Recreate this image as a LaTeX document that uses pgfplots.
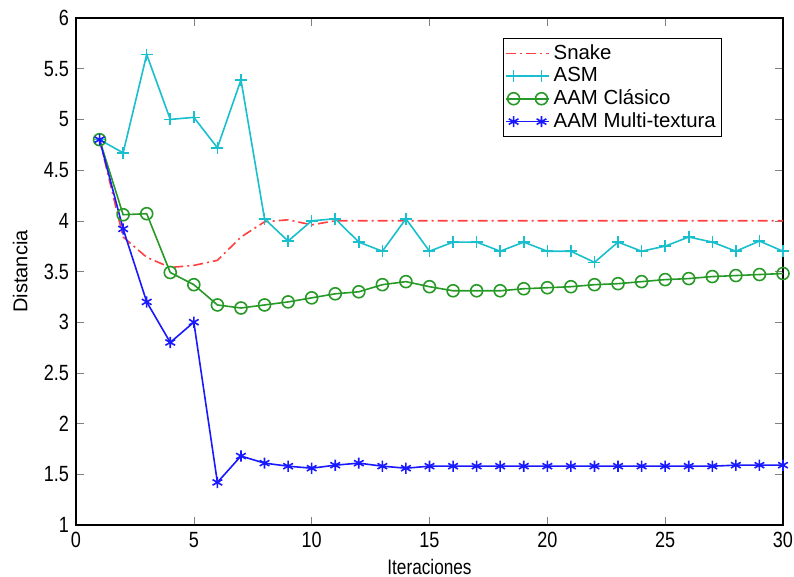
\documentclass[border=0pt]{standalone}
\usepackage{fontspec}
\setmainfont{Liberation Sans}
\newfontfamily\condensed[FakeStretch=0.82]{Liberation Sans}
\usepackage{pgfplots}
\pgfplotsset{compat=1.18}
\definecolor{snk}{rgb}{1,0.25,0.25}
\definecolor{asm}{rgb}{0.1,0.75,0.8}
\definecolor{aamc}{rgb}{0.15,0.6,0.15}
\definecolor{aamm}{rgb}{0.1,0.1,1}
\begin{document}
\begin{tikzpicture}
\useasboundingbox (-38pt,-26pt) rectangle (359pt,262.5pt);
\begin{axis}[
  scale only axis, width=353.5pt, height=253.5pt,
  xmin=0, xmax=30, ymin=1, ymax=6,
  xtick={0,5,...,30}, ytick={1,1.5,...,6},
  tick align=inside, tick pos=both,
  major tick length=4pt,
  /pgf/number format/assume math mode=true,
  ticklabel style={font=\condensed\fontsize{11}{12}\selectfont},
  yticklabel style={/pgf/number format/fixed},
  xlabel={Iteraciones}, ylabel={Distancia},
  xlabel style={font=\condensed\fontsize{10.5}{11}\selectfont, at={(axis description cs:0.5,-0.083)}, anchor=center},
  ylabel style={font=\fontsize{10}{11}\selectfont, at={(axis description cs:-0.079,0.5)}, anchor=center},
  legend style={at={(0.604,0.96)}, anchor=north west, font=\fontsize{10.2}{10}\selectfont,
    draw=black, inner sep=1pt, row sep=-1.5pt, cells={anchor=west}},
  legend image code/.code={
    \draw[mark=none] (0cm,0cm) -- (0.75cm,0cm);
    \draw plot[only marks] coordinates {(0.13cm,0cm) (0.62cm,0cm)};},
  legend cell align=left,
  axis line style={line width=0.6pt},
]
\addplot[color=snk, dash pattern=on 5pt off 2pt on 1pt off 2pt, line width=0.8pt] coordinates {
(1,4.8)(2,3.84)(3,3.64)(4,3.54)(5,3.56)(6,3.61)(7,3.84)(8,3.99)(9,4.01)(10,3.96)
(11,4.0)(12,4.0)(13,4.0)(14,4.0)(15,4.0)(16,4.0)(17,4.0)(18,4.0)(19,4.0)(20,4.0)
(21,4.0)(22,4.0)(23,4.0)(24,4.0)(25,4.0)(26,4.0)(27,4.0)(28,4.0)(29,4.0)(30,4.0)};
\addlegendentry{Snake}
\addplot[color=asm, mark=+, mark size=3pt, line width=0.8pt] coordinates {
(1,4.8)(2,4.67)(3,5.64)(4,5.0)(5,5.02)(6,4.72)(7,5.39)(8,4.02)(9,3.8)(10,4.0)
(11,4.02)(12,3.79)(13,3.7)(14,4.02)(15,3.7)(16,3.79)(17,3.79)(18,3.7)(19,3.79)(20,3.7)
(21,3.7)(22,3.59)(23,3.79)(24,3.7)(25,3.75)(26,3.84)(27,3.79)(28,3.7)(29,3.8)(30,3.7)};
\addlegendentry{ASM}
\addplot[color=aamc, mark=o, mark size=3pt, line width=0.8pt] coordinates {
(1,4.8)(2,4.06)(3,4.07)(4,3.49)(5,3.37)(6,3.17)(7,3.14)(8,3.17)(9,3.2)(10,3.24)
(11,3.28)(12,3.3)(13,3.37)(14,3.4)(15,3.35)(16,3.31)(17,3.31)(18,3.31)(19,3.33)(20,3.34)
(21,3.35)(22,3.37)(23,3.38)(24,3.4)(25,3.42)(26,3.43)(27,3.45)(28,3.46)(29,3.47)(30,3.48)};
\addlegendentry{AAM Clásico}
\addplot[color=aamm, mark=asterisk, mark size=2.8pt, line width=0.8pt] coordinates {
(1,4.8)(2,3.92)(3,3.2)(4,2.8)(5,3.0)(6,1.42)(7,1.68)(8,1.61)(9,1.58)(10,1.56)
(11,1.59)(12,1.61)(13,1.58)(14,1.56)(15,1.58)(16,1.58)(17,1.58)(18,1.58)(19,1.58)(20,1.58)
(21,1.58)(22,1.58)(23,1.58)(24,1.58)(25,1.58)(26,1.58)(27,1.58)(28,1.59)(29,1.59)(30,1.59)};
\addlegendentry{AAM Multi-textura}
\end{axis}
\end{tikzpicture}
\end{document}
